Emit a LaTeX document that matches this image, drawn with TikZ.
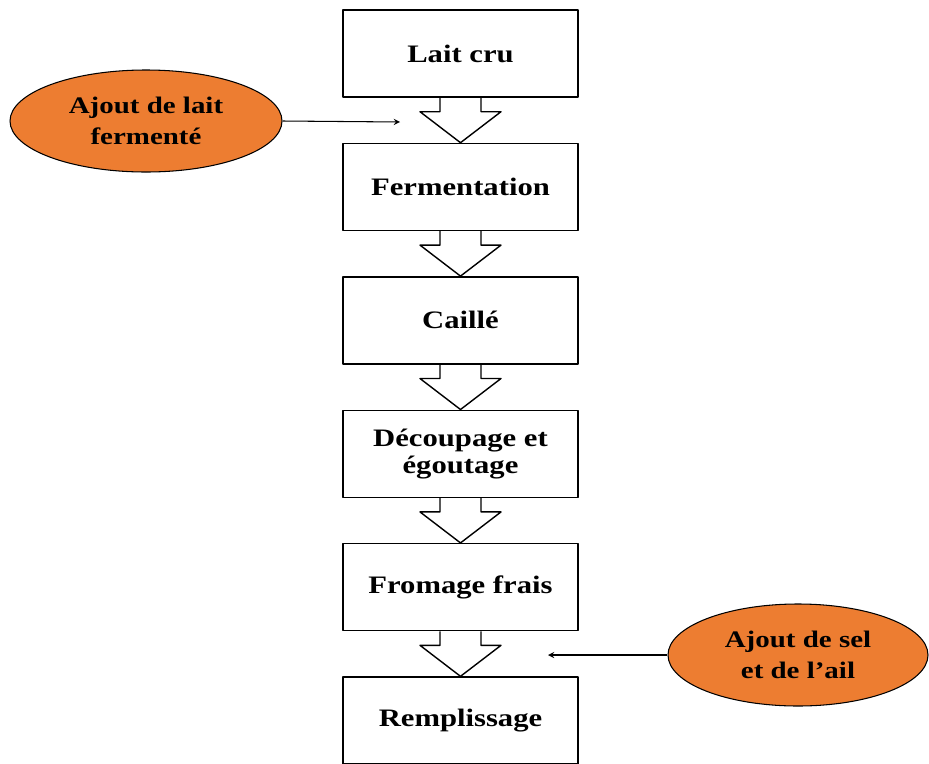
\documentclass[tikz,border=0pt]{standalone}
\usepackage{fontspec}
\setmainfont{Liberation Serif}[FakeStretch=1.22]
\usetikzlibrary{positioning,shapes.geometric,calc}
\definecolor{orangefill}{HTML}{ED7D31}
\begin{document}
\begin{tikzpicture}[font=\bfseries\fontsize{14.3}{15.2}\selectfont, line join=round, >=stealth, node distance=0.9cm,
	etape/.style={draw, line width=0.8pt, minimum width=4.7cm, minimum height=1.74cm, align=center, inner sep=2pt},
	ajout/.style={ellipse, draw, line width=0.6pt, fill=orangefill, minimum width=5.44cm, minimum height=2.04cm, inner sep=0pt, align=center, font=\bfseries\fontsize{13.5}{17.5}\selectfont}]
	\clip (0,0) rectangle (18.58,-15.26);
	\def\fleche#1#2{\draw[line width=0.8pt] ($(#1.south)+(-0.41,0)$)--++(0,-0.28)--++(-0.4,0)--(#2.north)--($(#1.south)+(0.81,-0.28)$)--++(-0.4,0)--++(0,0.28);}
	\node[etape] (lait) at (9.21,-1.07) {Lait cru};
	\node[etape, below=of lait] (ferm) {Fermentation};
	\node[etape, below=of ferm] (caille) {Caillé};
	\node[etape, below=of caille] (decoup) {Découpage et\\égoutage};
	\node[etape, below=of decoup] (fromage) {Fromage frais};
	\node[etape, below=of fromage] (remp) {Remplissage};
	\foreach \a/\b in {lait/ferm,ferm/caille,caille/decoup,decoup/fromage,fromage/remp}{\fleche{\a}{\b}}
	\node[ajout] (ferme) at (2.92,-2.42) {Ajout de lait\\fermenté};
	\node[ajout, minimum width=5.2cm] (selail) at (15.96,-13.1) {Ajout de sel\\et de l’ail};
	\coordinate (p1) at (8.0,-2.44);
	\coordinate (p2) at (10.96,-13.1);
	\draw[->, line width=0.6pt] (ferme.east)--(p1);
	\draw[->, line width=0.6pt] (selail.west)--(p2);
\end{tikzpicture}
\end{document}
